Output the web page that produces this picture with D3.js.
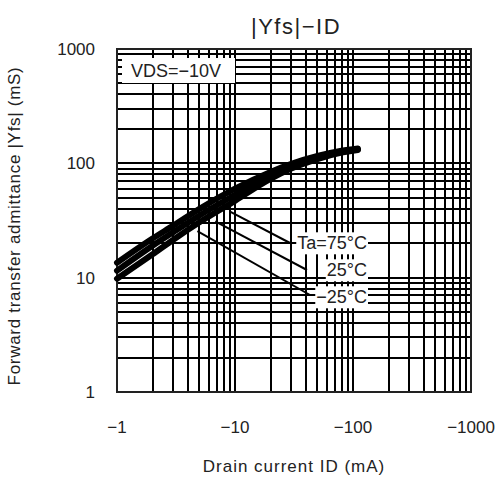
<!DOCTYPE html>
<meta charset="utf-8">
<script src="https://d3js.org/d3.v7.min.js"></script>
<style>
body { margin:0; background:#fff; }
svg text { font-family:"Liberation Sans", Arial, sans-serif; fill:#222; }
</style>
<svg width="500" height="487"></svg>
<script>

// drain current (mA)
var currentID = [-1, -2, -3, -5, -10, -20, -30, -50, -80, -110];
// |Yfs| (mS) per temperature
var yfsCold = [13.5, 22, 28.5, 40, 60, 84, 99, 116, 129, 135];   // -25C
var yfsRoom = [11.5, 19, 25, 35, 53, 79, 95, 113, 127, 133];     // 25C
var yfsHot  = [9.8, 16, 21.5, 30.5, 47, 73, 90, 109, 124, 131];  // 75C

var xTicks = [-1, -10, -100, -1000];
var yTicks = [1, 10, 100, 1000];
var tempLabels = ['Ta=75°C', '25°C', '−25°C'];

var svg = d3.select('svg');
var plotL = 117, plotR = 471, plotT = 49, plotB = 392;

var x = d3.scaleLog().domain([1, 1000]).range([plotL, plotR]);
var y = d3.scaleLog().domain([1, 1000]).range([plotB, plotT]);

function fmt(v) {
    return v < 0 ? '−' + (-v) : '' + v
}

// minor + major log grid
var gridVals = [];
for (var p = 0; p < 3; p++) {
    for (var m = 1; m <= 9; m++) gridVals.push(m * Math.pow(10, p));
}
gridVals.push(1000);

var grid = svg.append('g').attr('class', 'grid').attr('shape-rendering', 'crispEdges');
grid.selectAll('line.v')
    .data(gridVals)
    .enter().append('line')
    .attr('class', 'v')
    .attr('x1', function(d) { return Math.round(x(d)) })
    .attr('x2', function(d) { return Math.round(x(d)) })
    .attr('y1', plotT)
    .attr('y2', plotB)
    .attr('stroke', '#000')
    .attr('stroke-width', 2)
grid.selectAll('line.h')
    .data(gridVals)
    .enter().append('line')
    .attr('class', 'h')
    .attr('y1', function(d) { return Math.round(y(d)) })
    .attr('y2', function(d) { return Math.round(y(d)) })
    .attr('x1', plotL)
    .attr('x2', plotR)
    .attr('stroke', '#000')
    .attr('stroke-width', 2)

svg.append('rect')
    .attr('x', plotL).attr('y', plotT)
    .attr('width', plotR - plotL).attr('height', plotB - plotT)
    .attr('fill', 'none')
    .attr('stroke', '#222')
    .attr('stroke-width', 2)
    .attr('shape-rendering', 'crispEdges')

// curves
var series = [yfsCold, yfsRoom, yfsHot];
var line = d3.line()
    .x(function(d) { return x(-d[0]) })
    .y(function(d) { return y(d[1]) })
    .curve(d3.curveMonotoneX);

svg.append('g').selectAll('path')
    .data(series)
    .enter().append('path')
    .attr('d', function(s) { return line(currentID.map(function(c, i) { return [c, s[i]] })) })
    .attr('fill', 'none')
    .attr('stroke', '#000')
    .attr('stroke-width', 6)
    .attr('stroke-linecap', 'round')

// leader lines + temperature labels
var leaderFrom = [[-9.0, 38], [-6.8, 31], [-4.8, 25.5]];
var labelY = [243, 270, 297];
var leaderTo = [[290, 243], [307, 270], [310, 295]];

var lab = svg.append('g');
lab.selectAll('line')
    .data(leaderFrom)
    .enter().append('line')
    .attr('x1', function(d) { return x(-d[0]) })
    .attr('y1', function(d) { return y(d[1]) })
    .attr('x2', function(d, i) { return leaderTo[i][0] })
    .attr('y2', function(d, i) { return leaderTo[i][1] })
    .attr('stroke', '#000')
    .attr('stroke-width', 2)

var labTexts = lab.selectAll('text')
    .data(tempLabels)
    .enter().append('text')
    .attr('x', 367)
    .attr('y', function(d, i) { return labelY[i] })
    .attr('dy', '0.35em')
    .attr('text-anchor', 'end')
    .attr('font-size', 18)
    .text(function(d) { return d })
labTexts.each(function() {
    var b = this.getBBox();
    lab.insert('rect', 'text')
        .attr('x', b.x - 1).attr('y', b.y - 1)
        .attr('width', b.width + 2).attr('height', b.height + 2)
        .attr('fill', '#fff')
})

// VDS box
svg.append('rect')
    .attr('x', 122).attr('y', 58).attr('width', 113).attr('height', 25)
    .attr('fill', '#fff')
svg.append('text')
    .attr('x', 131).attr('y', 77)
    .attr('font-size', 18)
    .text('VDS=−10V')

// tick labels
svg.append('g').selectAll('text')
    .data(xTicks)
    .enter().append('text')
    .attr('x', function(d) { return x(-d) })
    .attr('y', 433)
    .attr('text-anchor', 'middle')
    .attr('font-size', 17)
    .text(fmt)
svg.append('g').selectAll('text')
    .data(yTicks)
    .enter().append('text')
    .attr('x', 95)
    .attr('y', function(d) { return y(d) })
    .attr('dy', '0.35em')
    .attr('text-anchor', 'end')
    .attr('font-size', 17)
    .text(fmt)

// titles
svg.append('text')
    .attr('x', 296).attr('y', 34)
    .attr('text-anchor', 'middle')
    .attr('font-size', 22)
    .attr('letter-spacing', 1.5)
    .text('|Yfs|−ID')
svg.append('text')
    .attr('x', 294).attr('y', 472)
    .attr('text-anchor', 'middle')
    .attr('font-size', 17)
    .attr('letter-spacing', 1)
    .text('Drain current ID (mA)')
svg.append('text')
    .attr('transform', 'translate(20,226) rotate(-90)')
    .attr('text-anchor', 'middle')
    .attr('font-size', 17)
    .attr('letter-spacing', 0.7)
    .text('Forward transfer admittance |Yfs| (mS)')

</script>
